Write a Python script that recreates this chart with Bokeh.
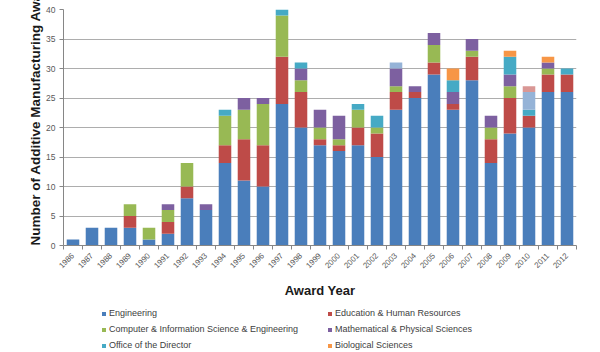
from math import pi
from bokeh.plotting import figure
from bokeh.layouts import column
from bokeh.models import (ColumnDataSource, FixedTicker, Legend, LegendItem,
                          Range1d, Title)
from bokeh.embed import file_html
from bokeh.resources import INLINE

years = list(range(1986, 2013))
engineering = [1, 3, 3, 3, 1, 2, 8, 6, 14, 11, 10, 24, 20, 17, 16, 17, 15, 23, 25, 29, 23, 28, 14, 19, 20, 26, 26]
education = [0, 0, 0, 2, 0, 2, 2, 0, 3, 7, 7, 8, 6, 1, 1, 3, 4, 3, 1, 2, 1, 4, 4, 6, 2, 3, 3]
cise = [0, 0, 0, 2, 2, 2, 4, 0, 5, 5, 7, 7, 2, 2, 1, 3, 1, 1, 0, 3, 0, 1, 2, 2, 0, 1, 0]
mps = [0, 0, 0, 0, 0, 1, 0, 1, 0, 2, 1, 0, 2, 3, 4, 0, 0, 3, 1, 2, 2, 2, 2, 2, 0, 1, 0]
director = [0, 0, 0, 0, 0, 0, 0, 0, 1, 0, 0, 1, 1, 0, 0, 1, 2, 0, 0, 0, 2, 0, 0, 3, 1, 0, 1]
biological = [0, 0, 0, 0, 0, 0, 0, 0, 0, 0, 0, 0, 0, 0, 0, 0, 0, 0, 0, 0, 2, 0, 0, 1, 0, 1, 0]
other_a = [0, 0, 0, 0, 0, 0, 0, 0, 0, 0, 0, 0, 0, 0, 0, 0, 0, 1, 0, 0, 0, 0, 0, 0, 3, 0, 0]
other_b = [0, 0, 0, 0, 0, 0, 0, 0, 0, 0, 0, 0, 0, 0, 0, 0, 0, 0, 0, 0, 0, 0, 0, 0, 1, 0, 0]

series_names = ["Engineering", "Education & Human Resources",
                "Computer & Information Science & Engineering",
                "Mathematical & Physical Sciences", "Office of the Director",
                "Biological Sciences"]
keys = ["eng", "edu", "cise", "mps", "od", "bio", "oa", "ob"]
colors = ["#4A7EBB", "#BE4B48", "#98B954", "#7D60A0", "#46AAC5", "#F79646",
          "#95B3D7", "#D99795"]
y_ticks = [0, 5, 10, 15, 20, 25, 30, 35, 40]

src = ColumnDataSource(dict(year=years, eng=engineering, edu=education, cise=cise,
                            mps=mps, od=director, bio=biological, oa=other_a, ob=other_b))

p = figure(width=600, height=300, output_backend="svg", toolbar_location=None,
           x_range=Range1d(1985.5, 2012.5), y_range=Range1d(0, 40),
           min_border_left=63, min_border_right=24, min_border_top=9,
           min_border_bottom=48, outline_line_color=None)

rs = p.vbar_stack(keys, x="year", width=0.66, fill_color=colors, line_color=None,
                  source=src)

# axes
p.xaxis.ticker = FixedTicker(ticks=years, minor_ticks=[y + 0.5 for y in range(1985, 2013)])
p.xaxis.major_label_overrides = {y: str(y) for y in years}
p.xaxis.major_label_orientation = pi / 4
p.xaxis.major_tick_out = 0
p.xaxis.major_tick_in = 0
p.xaxis.minor_tick_out = 4
p.xaxis.minor_tick_in = 0
p.xaxis.minor_tick_line_color = "#868686"
p.xaxis.axis_line_color = "#868686"
p.xaxis.major_label_standoff = 5
p.xaxis.major_label_text_font = "Liberation Sans"
p.xaxis.major_label_text_font_size = "8px"
p.xaxis.major_label_text_color = "#595959"
p.xaxis.axis_label = "Award Year"
p.xaxis.axis_label_text_font = "Liberation Sans"
p.xaxis.axis_label_text_font_style = "bold"
p.xaxis.axis_label_text_font_size = "13px"
p.xaxis.axis_label_text_color = "#1a1a1a"
p.xaxis.axis_label_standoff = 9

p.yaxis.ticker = FixedTicker(ticks=y_ticks)
p.yaxis.minor_tick_line_color = None
p.yaxis.major_tick_out = 4
p.yaxis.major_tick_in = 0
p.yaxis.major_tick_line_color = "#868686"
p.yaxis.axis_line_color = "#868686"
p.yaxis.major_label_standoff = 4
p.yaxis.major_label_text_font = "Liberation Sans"
p.yaxis.major_label_text_font_size = "8.5px"
p.yaxis.major_label_text_color = "#595959"

p.xgrid.grid_line_color = None
p.ygrid.grid_line_color = "#ADADAD"
p.ygrid.grid_line_width = 1

ytitle = Title(text="Number of Additive Manufacturing Awards", align="left",
               offset=0, standoff=2, text_font="Liberation Sans",
               text_font_size="13.5px", text_font_style="bold", text_color="#1a1a1a")
p.add_layout(ytitle, "left")

# legend in its own strip below the chart
lf = figure(width=600, height=52, output_backend="svg", toolbar_location=None,
            x_range=Range1d(0, 1), y_range=Range1d(0, 1),
            x_axis_location=None, y_axis_location=None, outline_line_color=None,
            min_border_left=0, min_border_right=0, min_border_top=0,
            min_border_bottom=0)
lf.xgrid.grid_line_color = None
lf.ygrid.grid_line_color = None
# swatch renderers sit far outside the visible range; they only feed the legend
dummies = [lf.vbar(x=[-50], top=[-50], bottom=[-51], width=0.1, fill_color=c,
                   line_color=None) for c in colors[:6]]
items = [LegendItem(label=n, renderers=[dummies[i]]) for i, n in enumerate(series_names)]
legend = Legend(items=items, orientation="horizontal", ncols=2, location=(38, 1),
                border_line_color=None, background_fill_alpha=0, padding=2, margin=0,
                spacing=4, glyph_width=5, glyph_height=5, label_standoff=3,
                label_width=214, label_height=12, label_text_font="Liberation Sans",
                label_text_font_size="9px", label_text_color="#404040")
lf.add_layout(legend)

layout = column(p, lf, spacing=0)
open("out.html", "w").write(file_html(layout, INLINE))
